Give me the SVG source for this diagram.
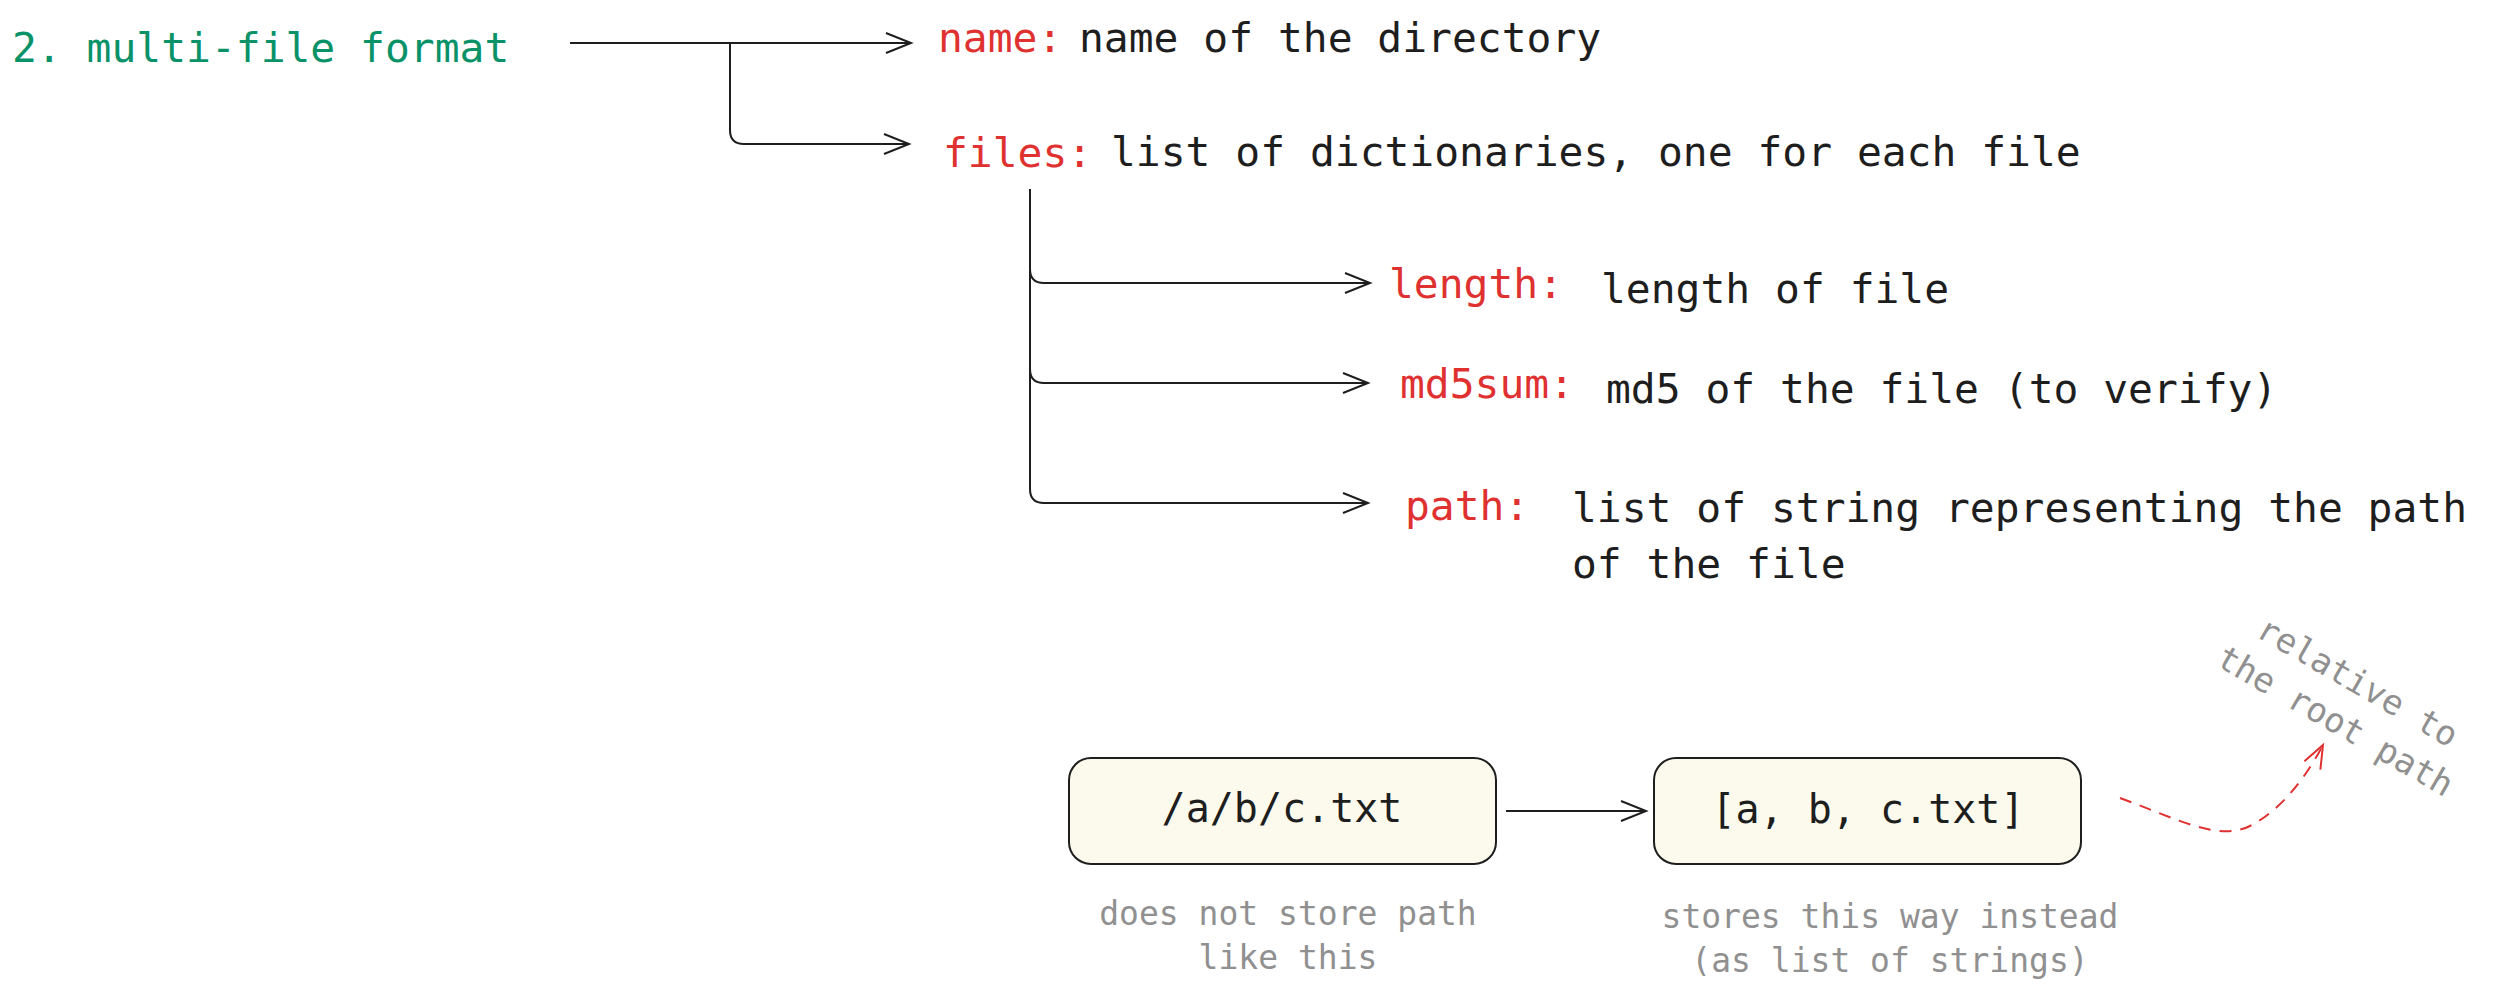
<svg xmlns="http://www.w3.org/2000/svg" width="2520" height="997" viewBox="0 0 2520 997">
<style>
text{font-family:"DejaVu Sans Mono","Liberation Mono",monospace;}
.t{font-size:41.3px;fill:#1e1e1e;}
.r{font-size:41.3px;fill:#e03131;}
.g{font-size:33px;fill:#909090;}
.b{font-size:40px;fill:#1e1e1e;text-anchor:middle;}
.c{text-anchor:middle;}
.ln{fill:none;stroke:#1e1e1e;stroke-width:2;}
.box{fill:#fbfaec;stroke:#1e1e1e;stroke-width:2;}
</style>
<defs>
<marker id="arr" markerUnits="userSpaceOnUse" markerWidth="40" markerHeight="30" refX="30" refY="15" orient="auto" viewBox="0 0 40 30">
<path d="M5,5 L30,15 L5,25" fill="none" stroke="#1e1e1e" stroke-width="2"/>
</marker>
<marker id="arrR" markerUnits="userSpaceOnUse" markerWidth="40" markerHeight="30" refX="30" refY="15" orient="auto" viewBox="0 0 40 30">
<path d="M7,6 L30,15 L7,24" fill="none" stroke="#e03131" stroke-width="2"/>
</marker>
</defs>
<rect width="2520" height="997" fill="#ffffff"/>

<g id="title"><text x="12" y="62" style="font-size:41.3px;fill:#099268">2. multi-file format</text></g>

<g id="name"><text class="r" x="938" y="52">name:</text><text class="t" x="1079" y="52">name of the directory</text></g>
<g id="files"><text class="r" x="943" y="167">files:</text><text class="t" x="1111" y="166">list of dictionaries, one for each file</text></g>
<g id="length"><text class="r" x="1389" y="298">length:</text><text class="t" x="1601" y="303">length of file</text></g>
<g id="md5sum"><text class="r" x="1400" y="398">md5sum:</text><text class="t" x="1606" y="403">md5 of the file (to verify)</text></g>
<g id="path"><text class="r" x="1405" y="520">path:</text><text class="t" x="1572" y="522">list of string representing the path</text><text class="t" x="1572" y="578">of the file</text></g>

<g id="box1"><rect class="box" x="1069" y="758" width="427" height="106" rx="22"/><text class="b" x="1282" y="822">/a/b/c.txt</text></g>
<g id="box2"><rect class="box" x="1654" y="758" width="427" height="106" rx="22"/><text class="b" x="1868" y="823">[a, b, c.txt]</text></g>

<g id="note1"><text class="g c" x="1288" y="925">does not store path</text><text class="g c" x="1288" y="969">like this</text></g>
<g id="note2"><text class="g c" x="1890" y="928">stores this way instead</text><text class="g c" x="1890" y="972">(as list of strings)</text></g>
<g id="note3" transform="translate(2352,692) rotate(30)"><text class="g c" x="0" y="0" style="font-size:34px">relative to</text><text class="g c" x="0" y="45" style="font-size:34px">the root path</text></g>

<g id="connectors">
<path class="ln" d="M570,43 H911" marker-end="url(#arr)"/>
<path class="ln" d="M730,43 V130 Q730,144 744,144 H909" marker-end="url(#arr)"/>
<path class="ln" d="M1030,189 V489 Q1030,503 1044,503 H1368" marker-end="url(#arr)"/>
<path class="ln" d="M1030,269 Q1030,283 1044,283 H1370" marker-end="url(#arr)"/>
<path class="ln" d="M1030,369 Q1030,383 1044,383 H1368" marker-end="url(#arr)"/>
<path class="ln" d="M1506,811 H1646" marker-end="url(#arr)"/>
<path d="M2120,798 C2175,818 2218,842 2250,826 C2285,808 2310,770 2323,745" fill="none" stroke="#e03131" stroke-width="2" stroke-dasharray="12 9" marker-end="url(#arrR)"/>
</g>
</svg>
